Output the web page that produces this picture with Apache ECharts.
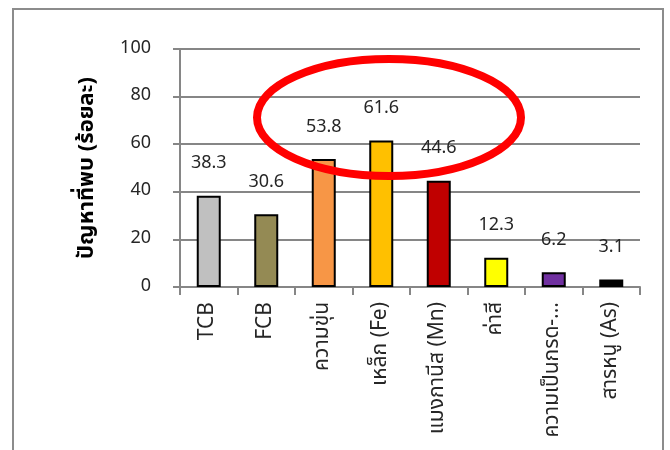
<!DOCTYPE html>
<html>
<head>
<meta charset="utf-8">
<script src="https://cdn.jsdelivr.net/npm/echarts@6/dist/echarts.min.js"></script>
<style>
html,body{margin:0;padding:0;background:#fff;}
#chart{width:670px;height:450px;}
</style>
</head>
<body>
<div id="chart"></div>
<script>
var categories = ["TCB", "FCB", "ความขุ่น", "เหล็ก (Fe)", "แมงกานีส (Mn)", "ค่าสี", "ความเป็นกรด-...", "สารหนู (As)"];
var values = [38.3, 30.6, 53.8, 61.6, 44.6, 12.3, 6.2, 3.1];
var barColors = ["#C0C0C0", "#948A54", "#F79646", "#FFC000", "#C00000", "#FFFF00", "#7030A0", "#000000"];
var yTitle = "ปัญหาที่พบ (ร้อยละ)";

var FONT = "Tahoma, 'Noto Sans Thai', 'Noto Sans', sans-serif";
var chart = echarts.init(document.getElementById('chart'), null, {renderer: 'canvas'});
chart.setOption({
  animation: false,
  backgroundColor: '#ffffff',
  textStyle: {fontFamily: FONT},
  grid: {left: 180, right: 30, top: 49, bottom: 163, containLabel: false},
  xAxis: {
    type: 'category',
    data: categories,
    boundaryGap: true,
    axisLine: {show: true, lineStyle: {color: '#868686', width: 2}},
    axisTick: {show: true, length: 8, interval: 0, lineStyle: {color: '#868686', width: 2}},
    axisLabel: {
      interval: 0, rotate: 90, margin: 15, color: '#262626', fontSize: 21, fontFamily: FONT
    }
  },
  yAxis: {
    type: 'value',
    min: 0, max: 100, interval: 20,
    name: yTitle,
    nameLocation: 'middle',
    nameGap: 80,
    nameRotate: 90,
    nameTextStyle: {fontSize: 22, fontWeight: 'bold', color: '#000000', fontFamily: FONT},
    axisLine: {show: true, lineStyle: {color: '#868686', width: 2}},
    axisTick: {show: true, length: 7, lineStyle: {color: '#868686', width: 2}},
    axisLabel: {margin: 29, color: '#262626', fontSize: 18, fontFamily: FONT},
    splitLine: {show: true, lineStyle: {color: '#868686', width: 2}}
  },
  series: [{
    type: 'bar',
    data: values.map(function (v, i) {
      return {value: v, itemStyle: {color: barColors[i]}};
    }),
    barWidth: 24,
    itemStyle: {borderColor: '#000000', borderWidth: 2},
    label: {
      show: true, position: 'top', distance: 22,
      color: '#262626', fontSize: 18, fontFamily: FONT
    }
  }],
  graphic: [
    {
      type: 'rect', z: 100,
      shape: {x: 13, y: 9, width: 650, height: 470},
      style: {fill: 'none', stroke: '#8C8C8C', lineWidth: 2}
    },
    {
      type: 'ellipse', z: 100,
      shape: {cx: 389, cy: 117.5, rx: 132, ry: 58.5},
      style: {fill: 'none', stroke: '#FF0000', lineWidth: 8}
    }
  ]
});
</script>
</body>
</html>
